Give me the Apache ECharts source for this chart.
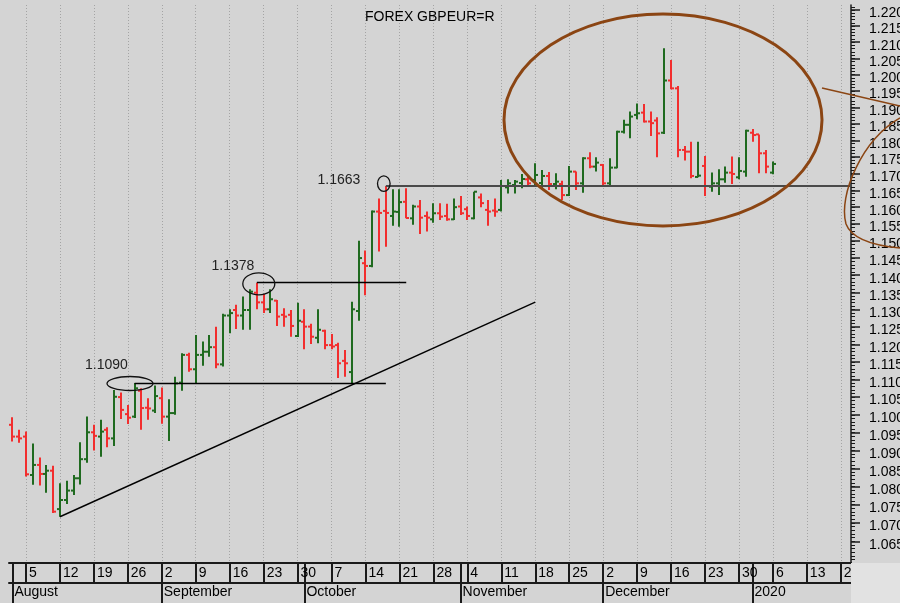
<!DOCTYPE html>
<html><head><meta charset="utf-8">
<script src="https://cdn.jsdelivr.net/npm/echarts@6/dist/echarts.min.js"></script>
<style>html,body{margin:0;padding:0;background:#d4d4d4}#c{width:900px;height:603px}</style>
</head><body><div id="c"></div>
<script>
const FONT = '"Liberation Sans", Arial, sans-serif';
const TITLE = 'FOREX GBPEUR=R';
const START_DATE = [2019, 7, 1];   // 1 Aug 2019, weekdays only
const N_CATEGORIES = 124;
const OPEN  = [1.0972,1.0939,1.0939,1.0832,1.0860,1.0835,1.0844,1.0738,1.0763,1.0789,1.0823,1.0876,1.0951,1.0939,1.0958,1.0934,1.1050,1.1002,1.0995,1.1068,1.1020,1.1012,1.1047,1.0995,1.1005,1.1091,1.1170,1.1129,1.1170,1.1179,1.1192,1.1143,1.1283,1.1299,1.1283,1.1299,1.1349,1.1321,1.1301,1.1326,1.1285,1.1285,1.1224,1.1265,1.1251,1.1219,1.1239,1.1198,1.1198,1.1153,1.1121,1.1296,1.1435,1.1427,1.1587,1.1589,1.1574,1.1586,1.1616,1.1567,1.1602,1.1574,1.1564,1.1582,1.1574,1.1564,1.1602,1.1594,1.1567,1.1629,1.1592,1.1590,1.1592,1.1659,1.1666,1.1672,1.1683,1.1681,1.1672,1.1693,1.1669,1.1669,1.1636,1.1706,1.1671,1.1746,1.1721,1.1726,1.1671,1.1718,1.1826,1.1847,1.1877,1.1884,1.1857,1.1860,1.1823,1.1982,1.1958,1.1771,1.1766,1.1690,1.1723,1.1661,1.1671,1.1683,1.1703,1.1689,1.1706,1.1823,1.1818,1.1761,1.1703];
const HIGH  = [1.0993,1.0958,1.0953,1.0920,1.0881,1.0860,1.0858,1.0809,1.0816,1.0832,1.0923,1.0995,1.0972,1.0986,1.0965,1.1070,1.1063,1.1028,1.1090,1.1075,1.1047,1.1083,1.1077,1.1044,1.1108,1.1175,1.1176,1.1227,1.1208,1.1227,1.1251,1.1288,1.1301,1.1314,1.1338,1.1359,1.1378,1.1345,1.1359,1.1328,1.1304,1.1299,1.1320,1.1301,1.1259,1.1301,1.1242,1.1230,1.1205,1.1184,1.1323,1.1501,1.1472,1.1590,1.1626,1.1663,1.1653,1.1653,1.1656,1.1607,1.1621,1.1587,1.1612,1.1612,1.1610,1.1626,1.1633,1.1602,1.1646,1.1641,1.1621,1.1626,1.1681,1.1683,1.1681,1.1699,1.1696,1.1731,1.1711,1.1705,1.1701,1.1679,1.1723,1.1706,1.1749,1.1764,1.1749,1.1729,1.1746,1.1829,1.1862,1.1887,1.1912,1.1910,1.1887,1.1870,1.2081,1.2045,1.1965,1.1783,1.1796,1.1796,1.1753,1.1703,1.1713,1.1721,1.1751,1.1749,1.1832,1.1834,1.1818,1.1771,1.1736];
const LOW   = [1.0925,1.0922,1.0828,1.0805,1.0803,1.0783,1.0727,1.0717,1.0752,1.0777,1.0806,1.0866,1.0900,1.0883,1.0909,1.0913,1.0988,1.0974,1.0991,1.0958,1.0986,1.1005,1.0975,1.0927,1.1000,1.1068,1.1122,1.1089,1.1139,1.1165,1.1132,1.1137,1.1232,1.1244,1.1242,1.1242,1.1301,1.1290,1.1290,1.1253,1.1251,1.1222,1.1221,1.1186,1.1201,1.1203,1.1186,1.1186,1.1104,1.1108,1.1087,1.1268,1.1342,1.1423,1.1469,1.1483,1.1545,1.1542,1.1567,1.1548,1.1521,1.1528,1.1554,1.1562,1.1560,1.1562,1.1577,1.1562,1.1564,1.1600,1.1545,1.1572,1.1587,1.1641,1.1641,1.1656,1.1661,1.1666,1.1657,1.1651,1.1653,1.1621,1.1633,1.1651,1.1643,1.1716,1.1706,1.1661,1.1666,1.1716,1.1821,1.1806,1.1864,1.1854,1.1813,1.1749,1.1819,1.1955,1.1749,1.1739,1.1686,1.1689,1.1633,1.1646,1.1636,1.1673,1.1669,1.1683,1.1691,1.1796,1.1701,1.1701,1.1698];
const CLOSE = [1.0939,1.0934,1.0834,1.0860,1.0835,1.0844,1.0731,1.0763,1.0789,1.0823,1.0876,1.0951,1.0941,1.0953,1.0934,1.1051,1.1014,1.0992,1.1075,1.1019,1.1018,1.1053,1.0995,1.1005,1.1089,1.1170,1.1129,1.1170,1.1179,1.1192,1.1143,1.1283,1.1290,1.1283,1.1299,1.1352,1.1321,1.1301,1.1330,1.1280,1.1280,1.1253,1.1268,1.1251,1.1222,1.1242,1.1198,1.1194,1.1146,1.1146,1.1301,1.1450,1.1427,1.1587,1.1583,1.1583,1.1587,1.1615,1.1568,1.1602,1.1569,1.1569,1.1582,1.1572,1.1564,1.1600,1.1582,1.1574,1.1646,1.1612,1.1587,1.1587,1.1663,1.1671,1.1676,1.1684,1.1671,1.1696,1.1693,1.1669,1.1676,1.1636,1.1706,1.1671,1.1746,1.1721,1.1733,1.1671,1.1718,1.1826,1.1847,1.1872,1.1882,1.1857,1.1852,1.1821,1.1982,1.1958,1.1771,1.1766,1.1693,1.1694,1.1663,1.1671,1.1683,1.1703,1.1699,1.1708,1.1829,1.1816,1.1761,1.1721,1.1729];
const Y_TICKS = [1.065,1.070,1.075,1.080,1.085,1.090,1.095,1.100,1.105,1.110,1.115,1.120,1.125,1.130,1.135,1.140,1.145,1.150,1.155,1.160,1.165,1.170,1.175,1.180,1.185,1.190,1.195,1.200,1.205,1.210,1.215,1.220];
const Y_MIN = 1.0591, Y_MAX = 1.22156;
const MONTH_LABELS = ['August','September','October','November','December','2020'];
// annotation levels: [price, fromIndex, toIndex]
const LEVEL_1090 = [1.1090, 18, 55];
const LEVEL_1378 = [1.1378, 36, 58];
const LEVEL_1663 = [1.1663, 55, 123];
const TREND = [[7, 1.0717], [77, 1.1322]];

const GREEN = '#1f6a1f', RED = '#f22e2e';

// calendar of weekdays
const cal = [];
{
  const d = new Date(START_DATE[0], START_DATE[1], START_DATE[2]);
  while (cal.length < N_CATEGORIES) {
    const w = d.getDay();
    if (w > 0 && w < 6) cal.push({y: d.getFullYear(), m: d.getMonth(), d: d.getDate(), w});
    d.setDate(d.getDate() + 1);
  }
}
const cats = cal.map(c => c.y + '-' + (c.m + 1) + '-' + c.d);
const isMonday = i => cal[i] && cal[i].w === 1;
const isMonthStart = i => i === 0 || (cal[i] && cal[i - 1] && cal[i].m !== cal[i - 1].m);
const monthOrder = [];
cal.forEach((c, i) => { if (isMonthStart(i)) monthOrder.push(i); });

const MINOR = [];
for (let k = 1060; k <= 1221; k++) MINOR.push(k / 1000);

const ohlc = OPEN.map((o, i) => [i, o, HIGH[i], LOW[i], CLOSE[i]]);

const chart = echarts.init(document.getElementById('c'), null, {renderer: 'canvas'});
const lineSeg = (a, b, style) => [{coord: a, lineStyle: style}, {coord: b}];
chart.setOption({
  animation: false,
  backgroundColor: '#d4d4d4',
  title: {text: TITLE, left: 365, top: 10, padding: 0,
    textStyle: {fontSize: 14, fontWeight: 'normal', color: '#000', fontFamily: FONT}},
  grid: {left: 9, right: 49, top: 5, bottom: 40, containLabel: false, outerBoundsMode: 'none'},
  xAxis: [{
    type: 'category', data: cats, boundaryGap: true, position: 'bottom',
    axisLine: {show: true, onZero: false, lineStyle: {color: '#1a1a1a', width: 2}},
    axisTick: {show: true, alignWithLabel: true, length: 20,
      interval: (i) => isMonday(i) || isMonthStart(i), lineStyle: {color: '#1a1a1a', width: 2}},
    axisLabel: {show: true, interval: (i) => isMonday(i), formatter: (v, i) => String(cal[i].d),
      align: 'left', verticalAlign: 'middle', margin: 10.5, padding: [0, 0, 0, 3],
      fontSize: 14, color: '#000', fontFamily: FONT},
    splitLine: {show: true, alignWithLabel: true, interval: (i) => isMonday(i),
      lineStyle: {color: '#a4a4a4', type: [1, 2], width: 1}}
  }, {
    type: 'category', data: cats, boundaryGap: true, position: 'bottom', offset: 20,
    axisLine: {show: true, onZero: false, lineStyle: {color: '#1a1a1a', width: 2}},
    axisTick: {show: true, alignWithLabel: true, length: 20,
      interval: (i) => isMonthStart(i), lineStyle: {color: '#1a1a1a', width: 2}},
    axisLabel: {show: true, interval: (i) => isMonthStart(i),
      formatter: (v, i) => MONTH_LABELS[monthOrder.indexOf(i)] || '',
      align: 'left', verticalAlign: 'middle', margin: 9.5, padding: [0, 0, 0, 2],
      fontSize: 14, color: '#000', fontFamily: FONT},
    splitLine: {show: false}
  }],
  yAxis: [{
    type: 'log', logBase: 10, position: 'right', min: Y_MIN, max: Y_MAX,
    axisLine: {show: true, lineStyle: {color: '#1a1a1a', width: 1.5}},
    axisTick: {show: true, customValues: Y_TICKS, length: 9, lineStyle: {color: '#1a1a1a', width: 1.5}},
    axisLabel: {show: true, customValues: Y_TICKS, margin: 18, formatter: v => Number(v).toFixed(3),
      verticalAlign: 'top', lineHeight: 7, fontSize: 14, color: '#000', fontFamily: FONT},
    splitLine: {show: false}, minorTick: {show: false}
  }, {
    type: 'log', logBase: 10, position: 'right', min: Y_MIN, max: Y_MAX,
    axisLine: {show: false},
    axisTick: {show: true, customValues: MINOR, length: 4, lineStyle: {color: '#1a1a1a', width: 1}},
    axisLabel: {show: false}, splitLine: {show: false}
  }],
  series: [{
    type: 'custom', name: 'GBPEUR', xAxisIndex: 0, yAxisIndex: 0, data: ohlc,
    encode: {x: 0, y: [1, 2, 3, 4]},
    renderItem: (params, api) => {
      const x = api.value(0);
      const o = api.value(1), h = api.value(2), l = api.value(3), c = api.value(4);
      const pH = api.coord([x, h]), pL = api.coord([x, l]);
      const pO = api.coord([x, o]), pC = api.coord([x, c]);
      const col = c >= o ? GREEN : RED;
      const st = {stroke: col, lineWidth: 2};
      const cx = Math.round(pH[0]);
      return {type: 'group', children: [
        {type: 'line', shape: {x1: cx, y1: pH[1], x2: cx, y2: pL[1]}, style: st},
        {type: 'line', shape: {x1: cx - 3, y1: pO[1], x2: cx, y2: pO[1]}, style: st},
        {type: 'line', shape: {x1: cx, y1: pC[1], x2: cx + 3, y2: pC[1]}, style: st}
      ]};
    }
  }, {
    type: 'line', name: 'annotations', xAxisIndex: 0, yAxisIndex: 0, data: [],
    markLine: {
      silent: true, symbol: 'none', animation: false,
      label: {show: false},
      lineStyle: {color: '#000', width: 1.4, type: 'solid'},
      data: [
        lineSeg([LEVEL_1090[1], LEVEL_1090[0]], [LEVEL_1090[2], LEVEL_1090[0]], {color: '#000', width: 1.4, type: 'solid'}),
        lineSeg([LEVEL_1378[1], LEVEL_1378[0]], [LEVEL_1378[2], LEVEL_1378[0]], {color: '#000', width: 1.4, type: 'solid'}),
        lineSeg([LEVEL_1663[1], LEVEL_1663[0]], [LEVEL_1663[2], LEVEL_1663[0]], {color: '#4a4a4a', width: 2, type: 'solid'}),
        lineSeg(TREND[0], TREND[1], {color: '#000', width: 1.4, type: 'solid'})
      ]
    }
  }],
  graphic: [
    {type: 'rect', z: 100, shape: {x: 851, y: 563, width: 49, height: 40}, style: {fill: '#e2e2e2'}},
    {type: 'line', z: 50, shape: {x1: 846, y1: 186, x2: 851, y2: 186}, style: {stroke: '#4a4a4a', lineWidth: 2}},
    {type: 'ellipse', z: 50, shape: {cx: 130, cy: 383.5, rx: 23, ry: 7}, style: {fill: null, stroke: '#111', lineWidth: 1.3}},
    {type: 'ellipse', z: 50, shape: {cx: 258.8, cy: 283.8, rx: 16, ry: 11}, style: {fill: null, stroke: '#111', lineWidth: 1.3}},
    {type: 'ellipse', z: 50, shape: {cx: 383.8, cy: 183.6, rx: 6.3, ry: 7.8}, style: {fill: null, stroke: '#111', lineWidth: 1.3}},
    {type: 'ellipse', z: 50, shape: {cx: 663, cy: 120, rx: 159, ry: 106}, style: {fill: null, stroke: '#8b4513', lineWidth: 3}},
    {type: 'line', z: 50, shape: {x1: 822, y1: 88, x2: 900, y2: 106}, style: {stroke: '#8b4513', lineWidth: 1.5}},
    {type: 'bezierCurve', z: 50, shape: {x1: 900, y1: 118, cpx1: 862, cpy1: 140, cpx2: 838, cpy2: 195, x2: 846, y2: 224}, style: {fill: null, stroke: '#8b4513', lineWidth: 1.5}},
    {type: 'bezierCurve', z: 50, shape: {x1: 846, y1: 224, cpx1: 852, cpy1: 240, cpx2: 878, cpy2: 246, x2: 900, y2: 248}, style: {fill: null, stroke: '#8b4513', lineWidth: 1.5}},
    {type: 'text', z: 50, x: 85, y: 365, style: {text: '1.1090', fill: '#222', font: '14px ' + FONT, verticalAlign: 'middle', align: 'left'}},
    {type: 'text', z: 50, x: 211.5, y: 266.5, style: {text: '1.1378', fill: '#222', font: '14px ' + FONT, verticalAlign: 'middle', align: 'left'}},
    {type: 'text', z: 50, x: 317.5, y: 180.5, style: {text: '1.1663', fill: '#222', font: '14px ' + FONT, verticalAlign: 'middle', align: 'left'}}
  ]
});
</script></body></html>
